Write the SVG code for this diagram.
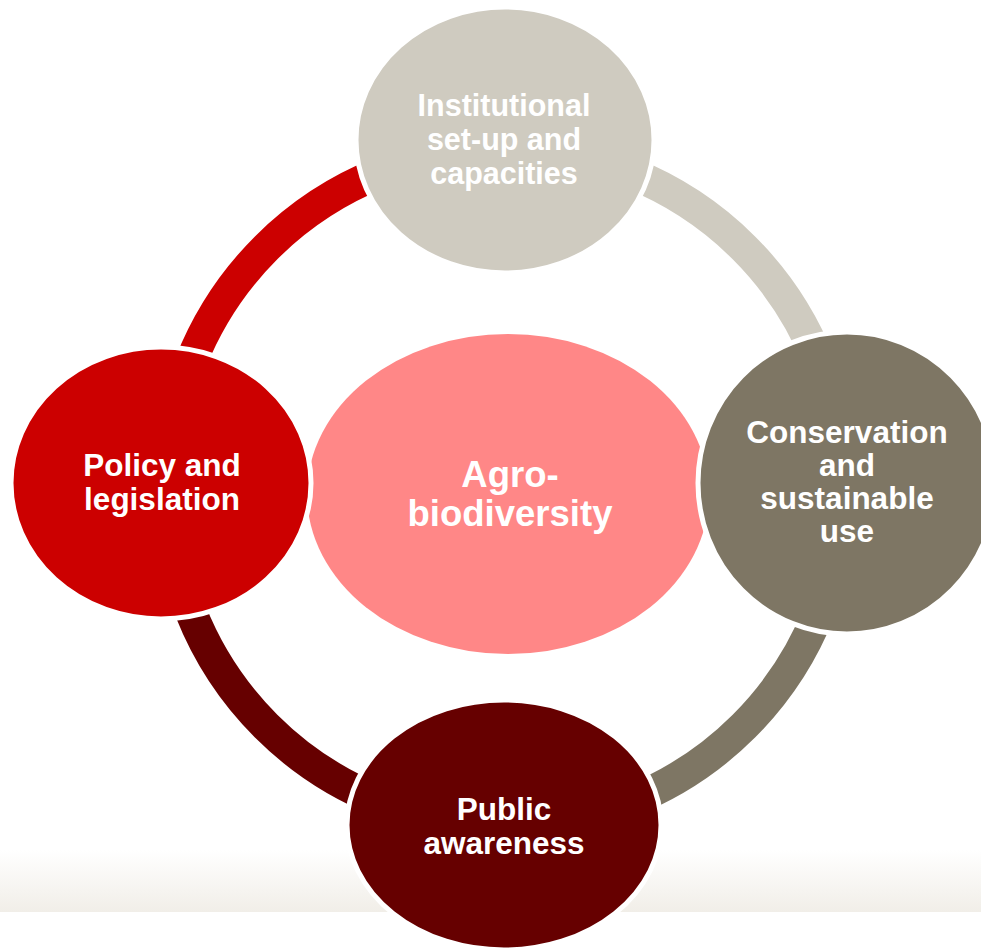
<svg xmlns="http://www.w3.org/2000/svg" width="981" height="949" viewBox="0 0 981 949">
<defs>
<linearGradient id="band" x1="0" y1="0" x2="0" y2="1">
<stop offset="0" stop-color="#FFFFFF"/>
<stop offset="1" stop-color="#F1EEE8"/>
</linearGradient>
</defs>
<style>
.arc{fill:none;stroke-width:32}
.node{stroke:#FFFFFF;stroke-width:5}
.t{font-family:"Liberation Sans",Arial,sans-serif;font-weight:bold;fill:#FFFFFF;text-anchor:middle;font-size:31.5px}
.tc{font-size:36.5px}
.ts{font-size:30.5px}
</style>
<rect x="0" y="0" width="981" height="949" fill="#FFFFFF"/>
<rect x="0" y="850" width="981" height="62" fill="url(#band)"/>
<g id="connectors">
<path class="arc" stroke="#CC0000" d="M167,487 A338,338 0 0 1 505,149"/>
<path class="arc" stroke="#CFCBC0" d="M505,149 A338,338 0 0 1 843,487"/>
<path class="arc" stroke="#7E7664" d="M843,487 A338,338 0 0 1 505,825"/>
<path class="arc" stroke="#660000" d="M505,825 A338,338 0 0 1 167,487"/>
</g>
<g id="center">
<ellipse cx="508" cy="494" rx="201" ry="160" fill="#FF8787"/>
<text class="t tc" x="510" y="487">Agro-</text>
<text class="t tc" x="510" y="526">biodiversity</text>
</g>
<g id="top">
<ellipse class="node" cx="505" cy="140" rx="149" ry="133" fill="#CFCBC0"/>
<text class="t ts" x="504" y="116">Institutional</text>
<text class="t ts" x="504" y="150">set-up and</text>
<text class="t ts" x="504" y="184">capacities</text>
</g>
<g id="right">
<ellipse class="node" cx="847" cy="483" rx="149" ry="151" fill="#7E7664"/>
<text class="t" x="847" y="443">Conservation</text>
<text class="t" x="847" y="476">and</text>
<text class="t" x="847" y="509">sustainable</text>
<text class="t" x="847" y="542">use</text>
</g>
<g id="bottom">
<ellipse class="node" cx="504" cy="825" rx="157" ry="125" fill="#660000"/>
<text class="t" x="504" y="820">Public</text>
<text class="t" x="504" y="854">awareness</text>
</g>
<g id="left">
<ellipse class="node" cx="161" cy="483" rx="150" ry="136" fill="#CC0000"/>
<text class="t" x="162" y="476">Policy and</text>
<text class="t" x="162" y="510">legislation</text>
</g>
</svg>
